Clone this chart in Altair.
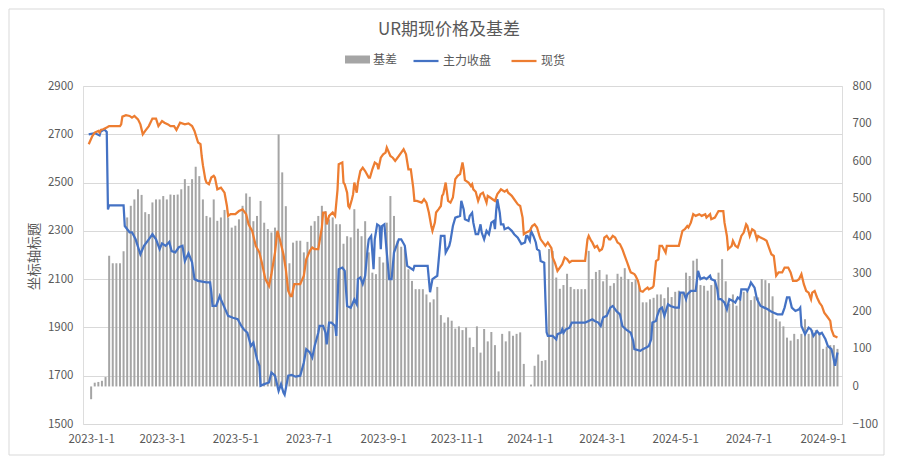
import altair as alt
import pandas as pd

# ---------------- data (day offsets from 2023-01-01) ----------------
fut_day = [-2,3,7,8,11,13,14,15,27,28,32,34,37,41,44,48,51,54,57,59,62,65,67,70,73,76,78,81,84,86,89,96,99,100,101,104,107,108,111,114,118,122,125,127,130,133,135,138,140,141,144,148,150,153,156,158,160,161,164,167,170,174,177,179,182,184,186,189,190,193,195,196,198,200,203,204,205,206,209,211,213,216,219,221,222,224,226,228,230,231,233,235,236,238,240,241,242,244,246,248,250,252,256,258,261,263,268,269,280,282,284,288,290,291,294,295,298,299,301,303,307,308,310,311,314,315,317,318,320,322,324,325,327,329,331,333,335,336,337,338,340,341,343,344,347,350,352,355,358,361,362,363,365,366,368,370,371,373,374,377,378,379,380,384,387,388,391,392,393,395,398,400,411,414,417,419,422,424,426,429,432,434,437,440,442,445,447,449,451,452,457,459,462,464,466,467,470,471,473,475,477,480,482,486,489,490,493,495,496,499,503,505,507,510,512,515,516,519,521,522,524,527,529,531,534,536,538,540,541,545,546,548,549,552,554,557,560,563,565,568,571,575,577,579,581,583,586,589,590,591,594,597,599,601,604,606,608,611,613,616,617,619,621]
fut_val = [2700,2705,2695,2712,2720,2710,2389,2406,2406,2320,2294,2294,2265,2203,2238,2265,2286,2265,2224,2248,2238,2254,2216,2211,2232,2238,2175,2207,2170,2100,2093,2087,2087,2046,1989,1989,2030,2016,1982,1948,1940,1934,1906,1892,1878,1823,1837,1768,1741,1658,1665,1672,1713,1700,1637,1665,1630,1621,1700,1703,1696,1700,1755,1810,1796,1775,1823,1878,1906,1906,1878,1830,1920,1920,1906,1865,2005,2141,2148,2134,1989,1982,2016,1996,2100,2107,2080,2114,2224,2265,2279,2141,2265,2327,2320,2224,2320,2327,2210,2100,2100,2210,2265,2265,2238,2155,2138,2155,2155,2046,2100,2114,2224,2279,2279,2210,2238,2259,2320,2355,2362,2424,2389,2348,2341,2362,2375,2334,2286,2286,2327,2293,2265,2300,2286,2334,2341,2307,2382,2431,2375,2327,2327,2307,2314,2300,2286,2272,2245,2252,2279,2279,2259,2300,2279,2252,2224,2217,2175,2168,2017,1880,1865,1865,1851,1872,1878,1892,1878,1892,1899,1920,1920,1927,1934,1927,1920,1906,1941,1948,1982,1989,1968,1954,1906,1892,1885,1878,1844,1810,1803,1810,1817,1823,1851,1920,1927,1948,1975,1982,1948,1996,1989,1982,1982,2044,2044,2017,2037,2051,2051,2134,2100,2107,2100,2114,2100,2093,2058,2017,2017,2003,1975,2017,2010,2003,2024,2017,2058,2058,2051,2072,2086,2065,2017,1989,1982,1975,1968,1961,1954,1954,1982,2024,2024,1982,1968,1975,1982,1906,1872,1899,1892,1865,1885,1872,1878,1851,1823,1810,1789,1741,1796]

spot_day = [-2,1,3,6,7,8,10,13,15,24,25,26,29,32,34,36,39,41,43,45,48,51,54,56,59,61,64,66,69,71,74,78,81,84,86,89,91,92,93,95,96,98,100,102,103,105,108,111,113,114,116,120,123,126,129,131,134,137,140,142,145,148,150,153,155,157,160,162,164,166,167,169,174,177,179,182,184,186,189,192,193,195,196,198,201,203,205,206,209,210,211,213,214,215,217,218,219,221,222,224,226,228,231,232,234,236,238,239,241,243,245,246,249,251,253,256,258,260,262,264,266,268,269,271,275,277,279,281,283,284,286,287,289,291,292,293,295,297,299,301,303,305,307,309,310,311,314,316,317,318,320,322,324,326,327,329,330,332,334,336,338,340,341,344,346,347,350,352,355,357,359,360,362,365,367,369,371,373,374,377,378,380,383,384,386,388,390,392,394,396,398,400,411,413,414,416,417,419,421,423,425,426,427,429,431,432,434,436,438,440,442,444,446,448,449,452,453,455,457,459,461,463,464,467,468,470,472,473,475,478,479,489,492,494,496,497,499,501,503,506,508,511,512,515,516,519,522,526,527,529,530,533,534,536,538,539,541,543,545,546,548,550,552,554,555,557,560,562,564,566,568,569,570,572,575,577,580,582,584,587,589,591,593,595,597,599,600,602,604,606,608,610,613,615,616,618,621]
spot_val = [2659,2693,2707,2714,2707,2718,2721,2728,2734,2734,2741,2773,2779,2776,2769,2776,2762,2741,2700,2714,2734,2765,2765,2734,2755,2748,2741,2734,2734,2718,2748,2741,2745,2734,2714,2666,2659,2610,2572,2514,2500,2493,2521,2528,2521,2472,2479,2458,2403,2362,2369,2369,2382,2389,2369,2327,2300,2238,2210,2169,2100,2072,2120,2210,2300,2265,2203,2141,2051,2030,2030,2079,2079,2114,2182,2217,2231,2224,2224,2314,2376,2376,2327,2362,2376,2362,2470,2576,2583,2500,2493,2458,2403,2396,2431,2452,2500,2458,2500,2548,2562,2548,2521,2521,2555,2583,2576,2555,2603,2617,2624,2645,2610,2603,2590,2610,2624,2638,2617,2555,2555,2479,2424,2424,2417,2431,2417,2376,2320,2300,2334,2376,2389,2403,2445,2452,2500,2424,2417,2438,2514,2528,2535,2583,2555,2510,2500,2486,2493,2472,2462,2424,2452,2458,2445,2417,2445,2438,2431,2424,2452,2465,2472,2462,2469,2458,2445,2431,2410,2403,2355,2286,2293,2300,2320,2327,2314,2279,2265,2245,2238,2252,2228,2190,2166,2134,2148,2162,2190,2183,2169,2176,2176,2265,2279,2259,2252,2231,2238,2217,2224,2238,2272,2279,2265,2265,2279,2272,2252,2245,2224,2196,2169,2141,2128,2121,2114,2093,2051,2048,2058,2065,2058,2065,2072,2175,2182,2238,2238,2210,2238,2238,2300,2307,2320,2314,2334,2369,2362,2369,2362,2369,2355,2369,2348,2355,2382,2382,2334,2279,2224,2238,2259,2238,2231,2245,2279,2293,2327,2320,2279,2307,2300,2265,2279,2272,2265,2259,2231,2203,2196,2155,2114,2128,2128,2148,2148,2128,2093,2093,2100,2121,2079,2051,2044,2017,2044,2051,2024,2003,1989,1961,1941,1927,1892,1865,1858]

# basis, one reading every 3 days starting 2023-01-01
basis_val = [-34,10,12,15,25,348,328,328,328,360,
             450,481,498,525,510,464,459,490,498,498,
             507,498,511,510,511,525,552,534,552,585,
             560,498,454,450,498,441,450,470,450,423,
             428,445,481,514,505,440,454,494,436,419,
             410,423,671,570,480,328,383,388,388,357,
             385,428,440,454,481,467,445,450,432,432,
             380,400,397,472,420,400,440,357,303,299,
             345,330,436,507,454,388,372,365,312,281,
             259,259,259,245,224,232,265,190,170,184,
             175,154,160,150,157,130,105,160,90,153,
             120,145,110,40,140,120,147,135,140,144,
             60,0,5,55,85,68,70,366,361,290,
             260,270,300,265,259,259,259,259,361,286,
             305,310,280,298,268,275,300,292,315,286,
             278,285,268,224,224,232,236,245,245,235,
             264,238,252,255,250,303,294,335,340,270,
             268,255,270,285,303,339,280,220,245,215,
             241,252,252,230,240,237,286,283,275,240,
             180,173,160,130,122,140,126,140,179,140,
             150,150,144,100,106,110,110,100]
basis_day = [3 * i for i in range(len(basis_val))]

x_ticks = ["2023-01-01", "2023-03-01", "2023-05-01", "2023-07-01", "2023-09-01", "2023-11-01",
           "2024-01-01", "2024-03-01", "2024-05-01", "2024-07-01", "2024-09-01"]
left_ticks = [1500, 1700, 1900, 2100, 2300, 2500, 2700, 2900]
right_ticks = [-100, 0, 100, 200, 300, 400, 500, 600, 700, 800]

# ---------------- tables ----------------
base = pd.Timestamp("2023-01-01")


def to_dates(days):
    return [(base + pd.Timedelta(days=d)).strftime("%Y-%m-%dT%H:%M:%S") for d in days]


lines_df = pd.concat([
    pd.DataFrame({"date": to_dates(fut_day), "value": fut_val, "series": "主力收盘"}),
    pd.DataFrame({"date": to_dates(spot_day), "value": spot_val, "series": "现货"}),
])
basis_df = pd.DataFrame({"date": to_dates(basis_day), "basis": basis_val, "series": "基差"})


def dt(s):
    t = pd.Timestamp(s)
    return alt.DateTime(year=t.year, month=t.month, date=t.day, hours=t.hour, minutes=t.minute)


FONT = "Noto Sans CJK SC"
TXT = "#595959"

x_enc = alt.X(
    "date:T",
    scale=alt.Scale(domain=[dt("2022-12-29 09:36"), dt("2024-09-12 14:24")]),
    axis=alt.Axis(values=[dt(s) for s in x_ticks], format="%Y-%-m-%-d", title=None,
                  grid=False, ticks=False, domain=False, labelPadding=9,
                  labelFontSize=11.5, labelColor=TXT, labelFont=FONT,
                  labelOverlap=False, labelFlush=False),
)

border = alt.Chart(basis_df).mark_rect(fillOpacity=0, stroke="#d9d9d9", strokeWidth=1).encode(
    x=alt.value(-74), x2=alt.value(801), y=alt.value(-77), y2=alt.value(369)
).transform_filter("datum.basis == -34")

bars = alt.Chart(basis_df).mark_bar(width=2.0).encode(
    x=x_enc,
    y=alt.Y("basis:Q",
            scale=alt.Scale(domain=[-100, 800], nice=False),
            axis=alt.Axis(orient="right", values=right_ticks, title=None, grid=False,
                          ticks=False, domain=False, labelPadding=10, format="d",
                          labelFontSize=11.5, labelColor=TXT, labelFont=FONT)),
    fill=alt.Fill("series:N",
                  scale=alt.Scale(domain=["基差"], range=["#a5a5a5"]),
                  legend=alt.Legend(orient="none", legendX=262, legendY=-39, title=None,
                                    symbolType="M-1,-0.32H1V0.32H-1Z", symbolSize=625,
                                    symbolStrokeWidth=0, labelOffset=3, labelFontSize=12,
                                    labelColor=TXT, labelFont=FONT, padding=0)),
)

lines = alt.Chart(lines_df).mark_line(strokeWidth=2.25).encode(
    x=x_enc,
    y=alt.Y("value:Q",
            scale=alt.Scale(domain=[1500, 2900], nice=False, zero=False),
            axis=alt.Axis(orient="left", values=left_ticks, title="坐标轴标题", format="d",
                          grid=True, gridColor="#d9d9d9", gridWidth=1,
                          ticks=False, domain=False, labelPadding=10,
                          labelFontSize=11.5, labelColor=TXT, labelFont=FONT,
                          titleFont=FONT, titleFontSize=13.5, titleFontWeight="normal",
                          titleColor=TXT, titleX=-49, titleY=170, titleAngle=270,
                          titleAlign="center", titleBaseline="middle")),
    stroke=alt.Stroke("series:N",
                      scale=alt.Scale(domain=["主力收盘", "现货"], range=["#4472c4", "#ed7d31"]),
                      legend=alt.Legend(orient="none", legendX=329, legendY=-39, title=None,
                                        direction="horizontal", symbolType="stroke",
                                        symbolSize=625, symbolStrokeWidth=2.25,
                                        columnPadding=15, labelOffset=3, labelFontSize=12,
                                        labelColor=TXT, labelFont=FONT, padding=0)),
    detail="series:N",
)

chart = alt.layer(border, bars, lines).resolve_scale(
    y="independent"
).properties(
    width=759,
    height=338,
    padding={"left": 83, "top": 86, "right": 56, "bottom": 40},
    autosize=alt.AutoSizeParams(type="none"),
    title=alt.TitleParams("UR期现价格及基差", font=FONT, fontSize=17, fontWeight="normal",
                          color=TXT, anchor="middle", frame="group", dx=-13.5, offset=-30),
    background="white",
).configure_view(strokeWidth=0).configure(font=FONT)

chart.save("out.html", embed_options={"renderer": "svg", "actions": False})
